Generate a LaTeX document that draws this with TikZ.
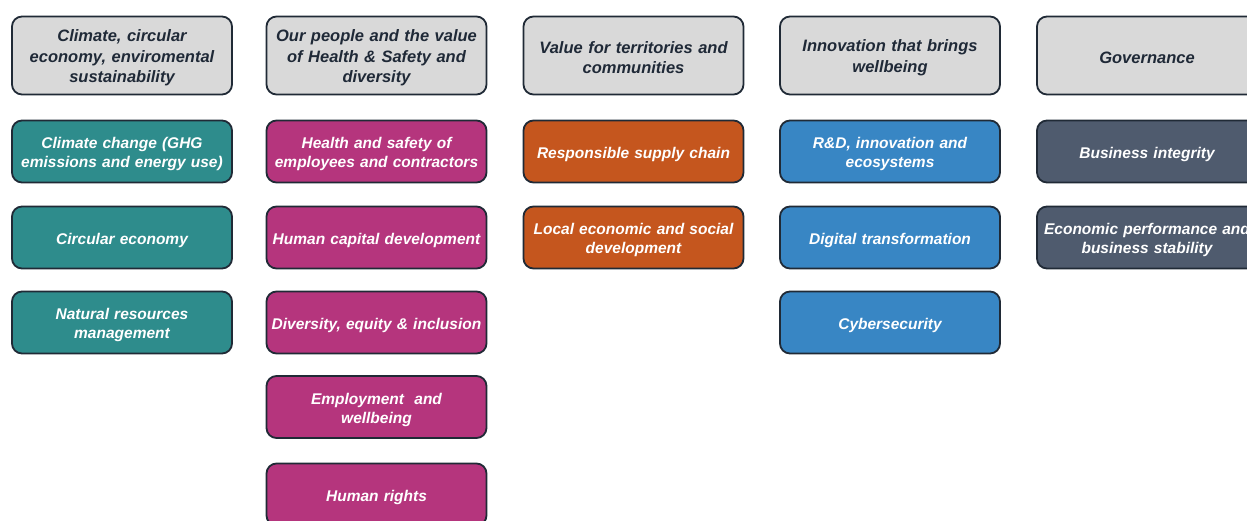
\documentclass[tikz,border=0pt]{standalone}
\usepackage{fontspec}
\setmainfont{Liberation Sans}
\definecolor{hdrfill}{RGB}{217,217,217}
\definecolor{bord}{RGB}{32,42,54}
\definecolor{hdrtext}{RGB}{31,41,55}
\definecolor{teal1}{RGB}{46,140,140}
\definecolor{mag1}{RGB}{181,53,125}
\definecolor{orng1}{RGB}{197,86,30}
\definecolor{blu1}{RGB}{56,134,196}
\definecolor{slate1}{RGB}{79,91,110}
\tikzset{
  basebox/.style={draw=bord, line width=1.8pt, rounded corners=10pt, minimum width=220pt, text width=218pt, align=center, inner sep=0pt, execute at begin node={\rule{0pt}{16.5pt}}, font=\fontsize{15.5}{19}\selectfont\bfseries\itshape},
  hdrbox/.style={basebox, fill=hdrfill, text=hdrtext, minimum height=78pt, font=\fontsize{16.5}{20.5}\selectfont\bfseries\itshape},
  itembox/.style={basebox, minimum height=62pt, text=white},
  tealbox/.style={itembox, fill=teal1},
  magbox/.style={itembox, fill=mag1},
  orngbox/.style={itembox, fill=orng1},
  blubox/.style={itembox, fill=blu1},
  slatebox/.style={itembox, fill=slate1},
}
\begin{document}
\begin{tikzpicture}[x=1pt,y=-1pt]
\useasboundingbox (0,0) rectangle (1247,521);
\clip (0,0) rectangle (1247,521);
% columns centers
\def\ca{122}\def\cb{376.5}\def\cc{633.5}\def\cd{890}\def\ce{1147}
% headers
\node[hdrbox] (h1) at (\ca,55.5) {Climate, circular\\economy, enviromental\\sustainability};
\node[hdrbox] (h2) at (\cb,55.5) {Our people and the value\\of Health \& Safety and\\diversity};
\node[hdrbox] (h3) at (\cc,55.5) {Value for territories and\\communities};
\node[hdrbox] (h4) at (\cd,55.5) {Innovation that brings\\wellbeing};
\node[hdrbox] (h5) at (\ce,55.5) {Governance};
% column 1
\node[tealbox] (a1) at (\ca,151.5) {Climate change (GHG\\emissions and energy use)};
\node[tealbox] (a2) at (\ca,237.5) {Circular economy};
\node[tealbox] (a3) at (\ca,322.5) {Natural resources\\management};
% column 2
\node[magbox] (b1) at (\cb,151.5) {Health and safety of\\employees and contractors};
\node[magbox] (b2) at (\cb,237.5) {Human capital development};
\node[magbox] (b3) at (\cb,322.5) {Diversity, equity \& inclusion};
\node[magbox] (b4) at (\cb,407) {Employment\ \ and\\wellbeing};
\node[magbox] (b5) at (\cb,494.5) {Human rights};
% column 3
\node[orngbox] (c1) at (\cc,151.5) {Responsible supply chain};
\node[orngbox] (c2) at (\cc,237.5) {Local economic and social\\development};
% column 4
\node[blubox] (d1) at (\cd,151.5) {R\&D, innovation and\\ecosystems};
\node[blubox] (d2) at (\cd,237.5) {Digital transformation};
\node[blubox] (d3) at (\cd,322.5) {Cybersecurity};
% column 5
\node[slatebox] (e1) at (\ce,151.5) {Business integrity};
\node[slatebox] (e2) at (\ce,237.5) {Economic performance and\\business stability};
\end{tikzpicture}
\end{document}
